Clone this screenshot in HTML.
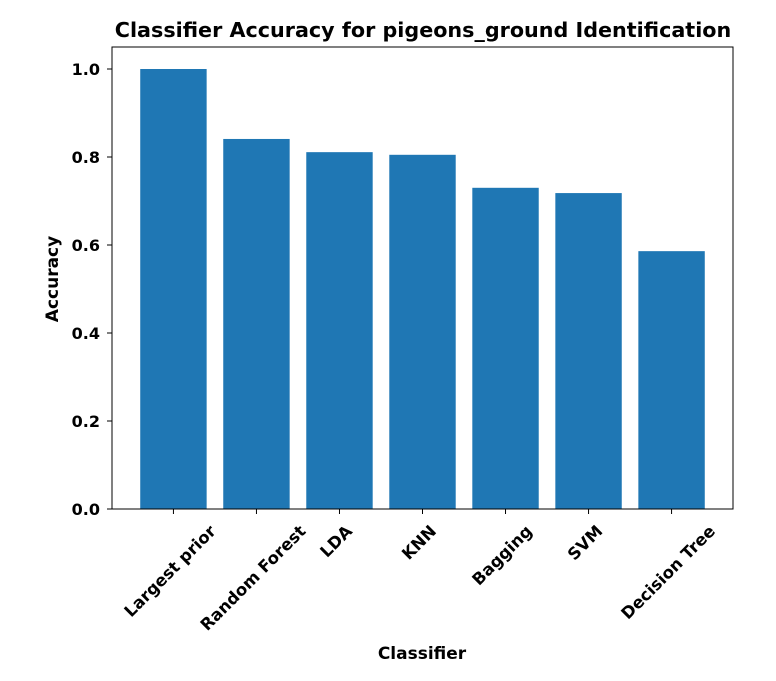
<!DOCTYPE html>
<html><head><meta charset="utf-8"><style>
body{margin:0;background:#fff;}
text{font-family:"DejaVu Sans","Liberation Sans",sans-serif;font-weight:bold;fill:#000;}
</style></head><body>
<svg id="chart" width="776" height="676" xmlns="http://www.w3.org/2000/svg">
<rect x="0" y="0" width="776" height="676" fill="#fff"/>
<g id="bars"></g><g id="axes"></g>
<text x="423" y="37" font-size="20.7" text-anchor="middle">Classifier Accuracy for pigeons_ground Identification</text>
<text x="422" y="659" font-size="17" text-anchor="middle">Classifier</text>
<text x="0" y="0" font-size="17" text-anchor="middle" transform="translate(58,279) rotate(-90)">Accuracy</text>
</svg>
<script>
const categories=["Largest prior","Random Forest","LDA","KNN","Bagging","SVM","Decision Tree"];
const accuracy=[1.0,0.841,0.811,0.805,0.730,0.718,0.586];
const yTicks=[0.0,0.2,0.4,0.6,0.8,1.0];
const yTickLabels=["0.0","0.2","0.4","0.6","0.8","1.0"];
const NS="http://www.w3.org/2000/svg";
const L=112,R=733,T=47,B=509;
const n=categories.length;
const xmin=-0.4-0.05*(n-0.2),xmax=n-0.6+0.05*(n-0.2);
function xs(i){return L+(i-xmin)/(xmax-xmin)*(R-L);}
function ys(v){return B-v*440;}
function mk(tag,attrs,parent){const e=document.createElementNS(NS,tag);for(const k in attrs)e.setAttribute(k,attrs[k]);parent.appendChild(e);return e;}
const bars=document.getElementById('bars'),axes=document.getElementById('axes');
const bw=0.8*(xs(1)-xs(0));
accuracy.forEach((v,i)=>{
 const r=mk('rect',{x:xs(i)-bw/2,y:ys(v),width:bw,height:B-ys(v),fill:'#1f77b4'},bars);
 
 
 const t=mk('line',{x1:xs(i),x2:xs(i),y1:B,y2:B+5,stroke:'#000','stroke-width':1},axes);
 
 
 const lb=mk('text',{x:0,y:0,'font-size':16.5,'text-anchor':'middle'},axes);
 lb.textContent=categories[i];
 
 
 const w=lb.getComputedTextLength();
 const half=(w+16)/(2*Math.SQRT2);
 lb.setAttribute('transform',`translate(${xs(i)-3},${B+14+half}) rotate(-45) translate(0,5)`);
});
yTicks.forEach((v,i)=>{
 const t=mk('line',{x1:L-5,x2:L,y1:ys(v),y2:ys(v),stroke:'#000','stroke-width':1},axes);
 
 
 const lb=mk('text',{x:L-12,y:ys(v)+6,'font-size':16,'text-anchor':'end'},axes);
 lb.textContent=yTickLabels[i];
 
 
});
const fr=mk('rect',{x:L,y:T,width:R-L,height:B-T,fill:'none',stroke:'#000','stroke-width':1},axes);


</script>
</body></html>
